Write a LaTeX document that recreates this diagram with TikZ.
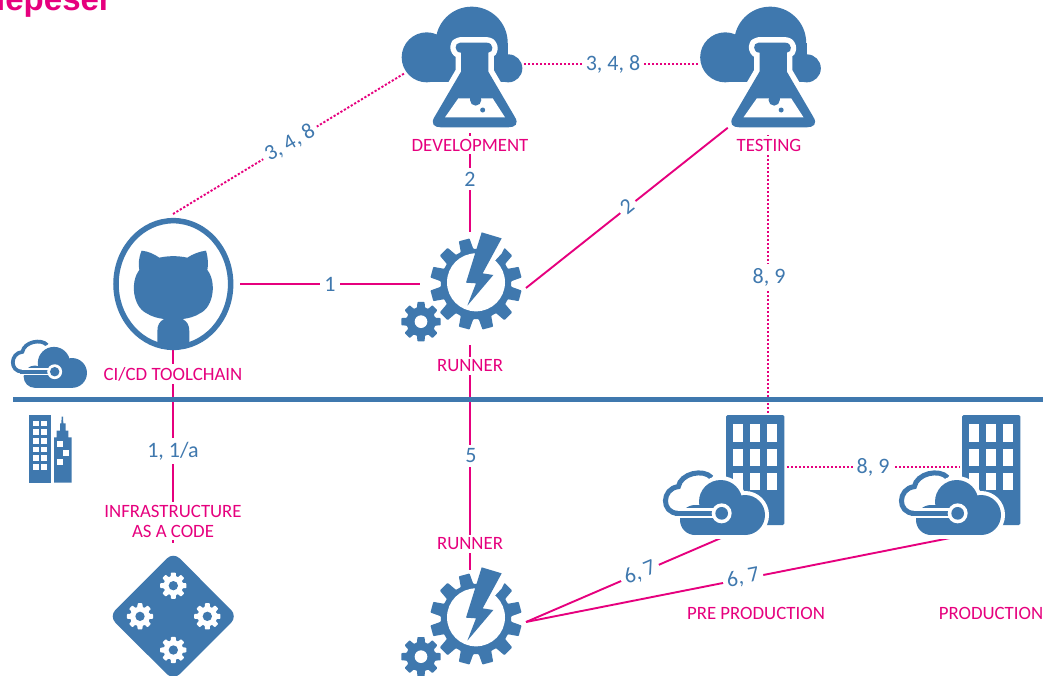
\documentclass[tikz,border=0pt]{standalone}
\usepackage{fontspec}
\setmainfont{Carlito}
\newfontfamily\logofont{Liberation Sans}
\definecolor{tblue}{HTML}{3F78AE}
\definecolor{tpink}{HTML}{E6007E}
\tikzset{
  x=1pt,y=-1pt,
  zoomed/.style 2 args={shift={(#1,#2)},scale=1/3},
  solidlink/.style={draw=tpink,line width=1.9pt},
  dotlink/.style={draw=tpink,line width=1.9pt,dash pattern=on 2.2pt off 1.8pt},
  port/.style={inner sep=0pt,minimum size=0pt,outer sep=0pt},
  pinklabel/.style={text=tpink,fill=white,inner sep=3pt,font=\fontsize{18.8}{20}\selectfont,align=center},
  bluelabel/.style={text=tblue,fill=white,inner sep=4pt,font=\fontsize{22}{24}\selectfont},
}
\newcommand\tgear[7]{% cx cy n Ro Ri offset colour
  \begin{scope}[shift={(#1,#2)}]
  \pgfmathsetmacro\stepang{360/#3}
  \pgfmathsetmacro\wa{\stepang*0.23}
  \pgfmathsetmacro\wb{\stepang*0.35}
  \fill[#7,rounded corners=0.7pt] (#6-\wb:#5)
    \foreach \k in {1,...,#3}{
      -- ({#6+(\k-1)*\stepang-\wb}:#5)
      -- ({#6+(\k-1)*\stepang-\wa}:#4)
      -- ({#6+(\k-1)*\stepang+\wa}:#4)
      -- ({#6+(\k-1)*\stepang+\wb}:#5)
    } -- cycle;
  \end{scope}}
\newcommand\flaskpath{(210,128) -- (290,128) .. controls (312,128) and (312,158) .. (295,158) -- (295,215)
   -- (374,350) .. controls (388,372) and (375,382) .. (355,382) -- (153,382)
   .. controls (133,382) and (120,372) .. (134,350) -- (213,215) -- (213,158)
   .. controls (192,158) and (192,128) .. (210,128) -- cycle}
\newcommand\flaskcloud[2]{%
  \begin{scope}[zoomed={#1}{#2}]
    \fill[tblue] (110,172) circle[radius=75];
    \fill[tblue] (245,128) circle[radius=108];
    \fill[tblue] (355,205) circle[radius=42];
    \fill[tblue] (110,128) rectangle (355,247);
    \draw[white,line width=11pt,line join=round] \flaskpath;
    \fill[tblue] \flaskpath;
    \fill[white] (205,295) -- (165,352) -- (345,352) -- (308,295) -- cycle;
    \fill[tblue] (257,300) circle[radius=17];
    \fill[tblue] (240,290) rectangle (274,300);
    \fill[tblue] (278,330) circle[radius=7.5];
  \end{scope}}
\newcommand\runnericon[2]{%
  \begin{scope}[zoomed={#1}{#2}]
    \tgear{258}{192}{12}{138}{106}{15}{tblue}
    \fill[white] (258,187) circle[radius=87];
    \fill[white] (275,37) -- (370,30) -- (335,100) -- (312,125) -- (278,160) -- cycle;
    \fill[tblue] (275,37) -- (335,55) -- (278,160) -- (310,165) -- (232,257) -- (258,190) -- (228,188) -- cycle;
    \tgear{93}{305}{8}{60}{44}{0}{tblue}
    \fill[white] (93,305) circle[radius=19];
  \end{scope}}
\newcommand\azureicon[3]{% origin x,y, extra scale
  \begin{scope}[shift={(#1,#2)},scale=#3/3]
    \draw[tblue,line width=#3*5pt] (190,325) -- (85,325) .. controls (32,325) and (35,250) .. (85,245) .. controls (92,205) and (160,190) .. (185,218);
    \draw[white,line width=#3*8pt] (135,345) circle[radius=45];
    \draw[white,line width=#3*8pt] (212,290) circle[radius=65];
    \draw[white,line width=#3*8pt] (285,330) circle[radius=60];
    \draw[white,line width=#3*8pt] (135,390) -- (290,390);
    \fill[tblue] (135,345) circle[radius=45];
    \fill[tblue] (212,290) circle[radius=65];
    \fill[tblue] (285,330) circle[radius=60];
    \fill[tblue] (135,300) rectangle (285,390);
    \draw[white,line width=#3*10pt] (85,325) -- (215,325);
    \draw[tblue,line width=#3*5pt] (75,325) -- (190,325);
    \fill[white] (215,325) circle[radius=30];
    \fill[tblue] (215,325) circle[radius=19];
  \end{scope}}
\newcommand\officeblock[2]{%
  \begin{scope}[zoomed={#1}{#2}]
    \fill[tblue,rounded corners=1.5pt] (228,30) rectangle (403,360);
    \foreach \cx in {250,301,352}\foreach \cy in {58,131,204}
      \fill[white] (\cx,\cy) rectangle ++(30,52);
  \end{scope}}
\begin{document}
\begin{tikzpicture}
\useasboundingbox (0,0) rectangle (1043,675);
\fill[white] (0,0) rectangle (1043,675);
\node[anchor=base east,inner sep=0pt,text=tpink,font=\logofont\bfseries\fontsize{33}{33}\selectfont] (logo) at (112,10.5) {lepeser};

% connector end points
\node[port] (git N) at (173,214) {};
\node[port] (git E) at (240,284) {};
\node[port] (git S) at (173,349) {};
\node[port] (dev W) at (405,73) {};
\node[port] (dev E) at (524,64) {};
\node[port] (dev S) at (470,127) {};
\node[port] (test W) at (698,64) {};
\node[port] (test SW) at (730,126) {};
\node[port] (test S) at (768,127) {};
\node[port] (run N) at (470,232) {};
\node[port] (run W) at (420,284) {};
\node[port] (run E) at (526,288) {};
\node[port] (run S) at (470,345) {};
\node[port] (lower N) at (470,570) {};
\node[port] (lower E) at (526,622) {};
\node[port] (iac N) at (173,543) {};
\node[port] (pre N) at (768,415) {};
\node[port] (pre E) at (787,467) {};
\node[port] (pre S) at (721,538) {};
\node[port] (prod W) at (960,467) {};
\node[port] (prod S) at (950,538) {};

% connectors
\draw[dotlink] (git N) -- (dev W);
\draw[dotlink] (dev E) -- (test W);
\draw[solidlink] (dev S) -- (run N);
\draw[solidlink] (run E) -- (test SW);
\draw[dotlink] (test S) -- (pre N);
\draw[solidlink] (git E) -- (run W);
\draw[solidlink] (git S) -- (iac N);
\draw[solidlink] (run S) -- (lower N);
\draw[solidlink] (lower E) -- (pre S);
\draw[solidlink] (lower E) -- (prod S);
\draw[dotlink] (pre E) -- (prod W);

% divider
\draw[tblue,line width=5pt] (13,399) -- (1043,399);

% icons
\flaskcloud{390}{0}
\flaskcloud{688.5}{0}
\runnericon{390}{220}
\runnericon{390}{555}

% github
\begin{scope}[zoomed={0}{210}]
  \draw[tblue,line width=5.5pt] (520,222) ellipse[x radius=172,y radius=190];
  \begin{scope}
    \clip (520,222) ellipse[x radius=172,y radius=190];
    \fill[tblue] (425,122) .. controls (445,124) and (462,132) .. (478,143) .. controls (505,137) and (535,137) .. (562,143)
      .. controls (578,132) and (600,124) .. (618,122) .. controls (625,145) and (625,165) .. (622,180)
      .. controls (650,215) and (642,290) .. (600,310) .. controls (585,320) and (565,325) .. (548,327)
      .. controls (562,335) and (568,345) .. (568,365) -- (568,420) -- (472,420) -- (472,365)
      .. controls (472,345) and (478,335) .. (492,327)
      .. controls (475,325) and (455,320) .. (440,310) .. controls (398,290) and (390,215) .. (418,180)
      .. controls (415,165) and (415,145) .. (425,122) -- cycle;
  \end{scope}
\end{scope}

% small azure icon and city
\azureicon{1.3}{291}{0.745}
\begin{scope}[zoomed={0}{400}]
  \fill[tblue] (88,45) rectangle (153,248);
  \foreach \cy in {62,88,114,140,166,192}
    \foreach \cx in {98,124}
      \fill[white] (\cx,\cy) rectangle ++(18,17);
  \fill[tblue] (162,112) -- (170,112) -- (170,92) -- (180,92) -- (180,70) -- (184,70) -- (185,50) -- (189,50) -- (190,70) -- (197,70) -- (197,92) -- (205,92) -- (205,112) -- (215,112) -- (215,248) -- (162,248) -- cycle;
  \fill[white] (170,123) rectangle ++(18,18);
  \fill[white] (190,150) rectangle ++(18,18);
  \fill[white] (170,177) rectangle ++(18,18);
\end{scope}

% buildings with clouds
\officeblock{650}{405}
\azureicon{650}{405}{1}
\officeblock{886}{405}
\azureicon{886}{405}{1}

% diamond
\fill[tblue,rounded corners=9pt] (173.3,552) -- (237.5,616.3) -- (173.3,680.5) -- (109,616.3) -- cycle;
\foreach \dx/\dy in {250/137,150/229,352/229,250/330}{
  \begin{scope}[zoomed={90}{540}]
    \tgear{\dx}{\dy}{8}{40}{29}{0}{white}
    \fill[tblue] (\dx,\dy) circle[radius=14];
  \end{scope}
}

% labels
\node[pinklabel] (l dev) at (470,145) {DEVELOPMENT};
\node[pinklabel] (l test) at (769,145) {TESTING};
\node[pinklabel] (l cicd) at (173,374) {CI/CD TOOLCHAIN};
\node[pinklabel] (l run1) at (470,366) {RUNNER};
\node[pinklabel] (l iac) at (173,521) {INFRASTRUCTURE\\AS A CODE};
\node[pinklabel] (l run2) at (470,544) {RUNNER};
\node[pinklabel] (l pre) at (756,613) {PRE PRODUCTION};
\node[pinklabel] (l prod) at (991,613) {PRODUCTION};

\node[bluelabel,rotate=30] (e1) at (290,143) {3, 4, 8};
\node[bluelabel] (e2) at (613,64) {3, 4, 8};
\node[bluelabel] (e3) at (470,179) {2};
\node[bluelabel,rotate=39] (e4) at (627,206) {2};
\node[bluelabel] (e5) at (769,277) {8, 9};
\node[bluelabel] (e6) at (330,284) {1};
\node[bluelabel] (e7) at (173,451) {1, 1/a};
\node[bluelabel] (e8) at (471,456) {5};
\node[bluelabel] (e9) at (873,467) {8, 9};
\node[bluelabel,rotate=23] (e10) at (640,573) {6, 7};
\node[bluelabel,rotate=11] (e11) at (743,578) {6, 7};
\end{tikzpicture}
\end{document}
